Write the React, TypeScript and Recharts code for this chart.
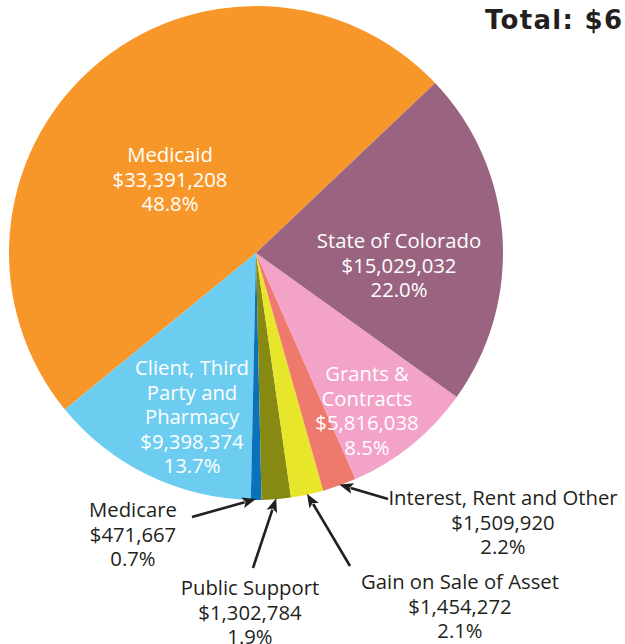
import { PieChart, Pie, Cell } from "recharts";

const names = [
  "Medicaid",
  "Client, Third\nParty and\nPharmacy",
  "Medicare",
  "Public Support",
  "Gain on Sale of Asset",
  "Interest, Rent and Other",
  "Grants &\nContracts",
  "State of Colorado",
];
const amounts = [33391208, 9398374, 471667, 1302784, 1454272, 1509920, 5816038, 15029032];
const colors = ["#F7972A", "#6DCDF0", "#0A72BB", "#868A12", "#E8E62A", "#F0796E", "#F3A2C8", "#9A6480"];

const total = amounts.reduce((s, v) => s + v, 0);
const data = names.map((name, i) => ({ name, value: amounts[i] }));

// where each label sits (centre of its first line); outside labels get an arrow from `tail`
const labelAt: { x: number; y: number; tail?: [number, number] }[] = [
  { x: 170, y: 154 },
  { x: 192, y: 367 },
  { x: 133, y: 509, tail: [192, 517] },
  { x: 250, y: 587, tail: [253, 568] },
  { x: 460, y: 581, tail: [350, 566] },
  { x: 503, y: 497, tail: [388, 499] },
  { x: 367, y: 373 },
  { x: 399, y: 240 },
];

const CX = 256;
const CY = 253;
const R = 247;
const RAD = Math.PI / 180;
const FONT = "'Open Sans', 'Noto Sans', sans-serif";

function money(n: number) {
  return "$" + n.toLocaleString("en-US");
}

const renderLabel = (props: any) => {
  const { index, midAngle } = props;
  const cx = props.cx ?? CX;
  const cy = props.cy ?? CY;
  const r = props.outerRadius ?? R;
  const pos = labelAt[index];
  const lines = [...names[index].split("\n"), money(amounts[index]), ((amounts[index] / total) * 100).toFixed(1) + "%"];
  const inside = !pos.tail;
  let arrow = null;
  if (pos.tail) {
    const tx = cx + (r - 1) * Math.cos(-midAngle * RAD);
    const ty = cy + (r - 1) * Math.sin(-midAngle * RAD);
    const [sx, sy] = pos.tail;
    const len = Math.hypot(tx - sx, ty - sy);
    const ux = (tx - sx) / len;
    const uy = (ty - sy) / len;
    const hl = 14;
    const hw = 5.5;
    const bx = tx - ux * hl;
    const by = ty - uy * hl;
    arrow = (
      <g>
        <line x1={sx} y1={sy} x2={bx + ux * 2} y2={by + uy * 2} stroke="#231F20" strokeWidth={2.6} />
        <polygon
          points={`${tx},${ty} ${bx - uy * hw},${by + ux * hw} ${bx + ux * 3},${by + uy * 3} ${bx + uy * hw},${by - ux * hw}`}
          fill="#231F20"
        />
      </g>
    );
  }
  return (
    <g key={`lbl-${index}`}>
      {arrow}
      <text
        x={pos.x}
        y={pos.y}
        textAnchor="middle"
        fill={inside ? "#ffffff" : "#231F20"}
        style={{ fontFamily: FONT, fontSize: 20.3 }}
      >
        {lines.map((l, i) => (
          <tspan key={i} x={pos.x} y={pos.y + i * 24.5} dominantBaseline="central">
            {l}
          </tspan>
        ))}
      </text>
    </g>
  );
};

export default function App() {
  return (
    <div style={{ position: "relative", width: 625, height: 644, overflow: "hidden", background: "#fff" }}>
      <style>{`body{margin:0}`}</style>
      <PieChart width={625} height={644} margin={{ top: 0, right: 0, bottom: 0, left: 0 }}>
        <Pie
          data={data}
          dataKey="value"
          nameKey="name"
          cx={CX}
          cy={CY}
          outerRadius={R}
          startAngle={43.5}
          endAngle={403.5}
          stroke="none"
          label={renderLabel}
          labelLine={false}
          isAnimationActive={false}
        >
          {data.map((d, i) => (
            <Cell key={d.name} fill={colors[i]} />
          ))}
        </Pie>
      </PieChart>
      <div
        style={{
          position: "absolute",
          left: 485,
          top: 5,
          whiteSpace: "nowrap",
          fontFamily: "'DejaVu Sans', sans-serif",
          fontWeight: 700,
          fontSize: 26,
          letterSpacing: 1.3,
          color: "#231F20",
          lineHeight: "30px",
        }}
      >
        Total: {money(total)}
      </div>
    </div>
  );
}
